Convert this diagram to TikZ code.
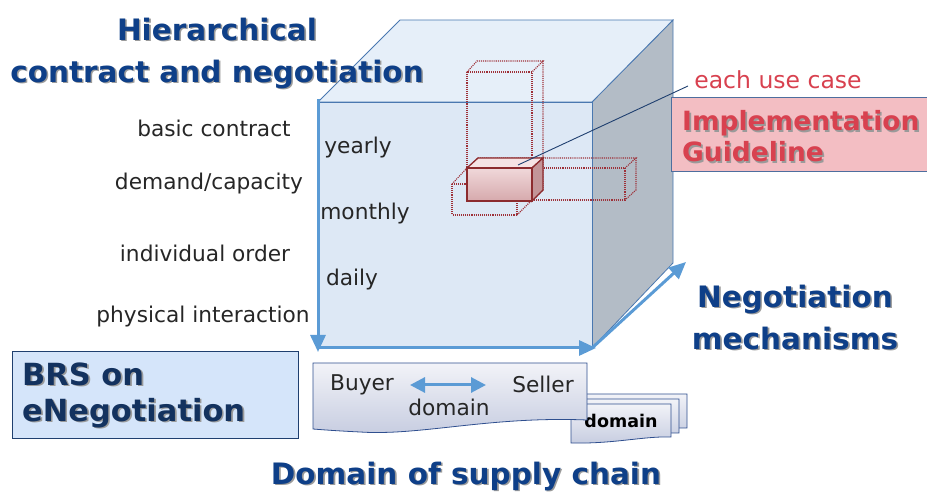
\documentclass[tikz,border=0pt]{standalone}
\usepackage{fontspec}
\setmainfont{DejaVu Sans}
\usetikzlibrary{arrows.meta,calc}
\definecolor{cubeFront}{HTML}{DDE8F5}
\definecolor{cubeTop}{HTML}{E6EFF9}
\definecolor{cubeSide}{HTML}{B3BCC6}
\definecolor{cubeEdge}{HTML}{4A78B0}
\definecolor{arrowBlue}{HTML}{5B9BD5}
\definecolor{titleBlue}{HTML}{0E3F88}
\definecolor{brsText}{HTML}{13325F}
\definecolor{brsFill}{HTML}{D5E5FA}
\definecolor{brsEdge}{HTML}{1F3F6F}
\definecolor{igFill}{HTML}{F3BEC3}
\definecolor{igText}{HTML}{D8414F}
\definecolor{igEdge}{HTML}{4E6E9E}
\definecolor{redEdge}{HTML}{8C2B2E}
\definecolor{dotRed}{HTML}{9E3038}
\definecolor{docEdge}{HTML}{2F4F8F}
\definecolor{docTop}{HTML}{F2F3F8}
\definecolor{docBot}{HTML}{C6CCE0}
\definecolor{rbTop}{HTML}{F5E3E4}
\definecolor{rbFront1}{HTML}{F0D8DA}
\definecolor{rbFront2}{HTML}{D6A9AC}
\definecolor{rbSide}{HTML}{C39598}
\definecolor{shadowGray}{HTML}{9A9A9A}
\newcommand{\shd}[2]{\rlap{\kern1.6pt\raisebox{-1.6pt}{\textcolor{shadowGray}{#2}}}\textcolor{#1}{#2}}
\tikzset{
  axis/.style={draw=arrowBlue, line width=3pt, -{Triangle[length=17pt,width=15pt]}},
  lbl/.style={font=\fontsize{21.7}{25}\selectfont, text=black!85, inner sep=0pt},
  title/.style={font=\fontsize{29.5}{42}\selectfont\bfseries, align=center, inner sep=0pt},
  dotbox/.style={draw=dotRed, densely dotted, line width=1.1pt},
  docshape/.style={draw=docEdge, line width=0.8pt, top color=docTop, bottom color=docBot},
}
\begin{document}
\begin{tikzpicture}[x=1pt,y=-1pt]
\useasboundingbox (0,0) rectangle (927,494);
% cube corners
\coordinate (ftl) at (318,102);
\coordinate (ftr) at (592,102);
\coordinate (fbl) at (318,348);
\coordinate (fbr) at (592,348);
\coordinate (btl) at (400,20);
\coordinate (btr) at (673,20);
\coordinate (bbr) at (673,263);
% faces
\filldraw[fill=cubeSide, draw=cubeEdge, line width=0.8pt] (ftr) -- (btr) -- (bbr) -- (fbr) -- cycle;
\filldraw[fill=cubeTop, draw=cubeEdge, line width=0.8pt] (ftl) -- (btl) -- (btr) -- (ftr) -- cycle;
\filldraw[fill=cubeFront, draw=cubeEdge, line width=0.8pt] (ftl) rectangle (fbr);

% tall dotted box
\draw[dotbox] (467,72) rectangle (532,201);
\draw[dotbox] (467,72) -- (477,61) -- (543,61) -- (532,72);
\draw[dotbox] (543,61) -- (543,190) -- (532,201);
% long dotted box
\draw[dotbox] (467,168) rectangle (625,200);
\draw[dotbox] (467,168) -- (478,158) -- (636,158) -- (625,168);
\draw[dotbox] (636,158) -- (636,190) -- (625,200);
% front dotted box
\draw[dotbox] (452,184) rectangle (517,215);
\draw[dotbox] (452,184) -- (467,168);
\draw[dotbox] (517,184) -- (532,168);
\draw[dotbox] (517,215) -- (532,200);
% red solid box
\filldraw[draw=redEdge, line width=1.3pt, fill=rbTop] (467,168) -- (478,158) -- (543,158) -- (532,168) -- cycle;
\filldraw[draw=redEdge, line width=1.3pt, fill=rbSide] (532,168) -- (543,158) -- (543,190) -- (532,201) -- cycle;
\draw[redEdge, line width=1.3pt, top color=rbFront1, bottom color=rbFront2] (467,168) rectangle (532,201);
\coordinate (usecase) at (518,165);

% axes
\draw[axis] (318,99) -- (318,352);
\draw[axis] (317,348) -- (596,348);
\draw[axis] (592,348) -- (686,262);

% inner labels
\node[lbl] (yearly) at (358,148) {yearly};
\node[lbl] (monthly) at (365,214) {monthly};
\node[lbl] (daily) at (352,280) {daily};
% left labels
\node[lbl] (basic) at (214,128) {basic contract};
\node[lbl] (demand) at (209,184) {demand/capacity};
\node[lbl] (indiv) at (205,253) {individual order};
\node[lbl] (phys) at (203,317) {physical interaction};

% titles
\node[title] (htitle) at (217,54) {\shd{titleBlue}{Hierarchical}\\\shd{titleBlue}{contract and negotiation}};
\node[title] (ntitle) at (795,318) {\shd{titleBlue}{Negotiation}\\\shd{titleBlue}{mechanisms}};
\node[title] (dtitle) at (466,477) {\shd{titleBlue}{Domain of supply chain}};

% each use case + IG box
\node[lbl, text=igText, font=\fontsize{23.5}{27}\selectfont] (each) at (778,80) {each use case};
\draw[draw=brsEdge, line width=0.9pt] (usecase) -- (688,86);
\filldraw[fill=igFill, draw=igEdge, line width=1pt] (671,98) rectangle (927,172);
\node[font=\fontsize{26.5}{31}\selectfont\bfseries, align=left, anchor=west, inner sep=0pt] (ig) at (682,137) {\shd{igText}{Implementation}\\\shd{igText}{Guideline}};

% BRS box
\filldraw[fill=brsFill, draw=brsEdge, line width=1pt] (12,352) rectangle (298,438);
\node[font=\fontsize{30.5}{36}\selectfont\bfseries, align=left, anchor=west, inner sep=0pt] (brs) at (22,396) {\shd{brsText}{BRS on}\\\shd{brsText}{eNegotiation}};

% small stacked docs
\path[docshape] (585,394) -- (687,394) -- (687,428) .. controls (660,427) and (630,434) .. (585,433) -- cycle;
\path[docshape] (578,399) -- (679,399) -- (679,433) .. controls (652,432) and (622,439) .. (578,438) -- cycle;
\path[docshape] (571,404) -- (671,404) -- (671,437) .. controls (644,436) and (614,444) .. (571,443) -- cycle;
\node[font=\fontsize{17.5}{20}\selectfont\bfseries, inner sep=0pt] (dom2) at (621,421) {domain};
% main doc
\path[docshape] (313,363) -- (587,363) -- (587,420) .. controls (490,416) and (420,436) .. (360,432) .. controls (340,431) and (325,430) .. (313,429) -- cycle;
\node[lbl] (buyer) at (362,385) {Buyer};
\node[lbl] (seller) at (543,384) {Seller};
\node[lbl] (dom1) at (449,407) {domain};
\coordinate (dl) at (410,385);
\coordinate (dr) at (486,385);
\draw[draw=arrowBlue, line width=3pt, {Triangle[length=15pt,width=15pt]}-{Triangle[length=15pt,width=15pt]}] (dl) -- (dr);
\end{tikzpicture}
\end{document}
